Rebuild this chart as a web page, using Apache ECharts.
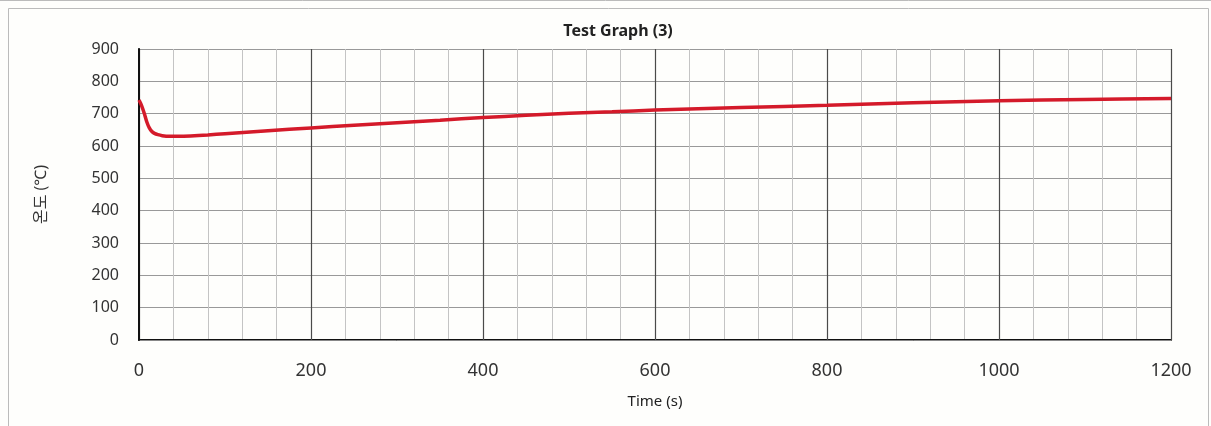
<!DOCTYPE html>
<html><head><meta charset="utf-8">
<script src="https://cdn.jsdelivr.net/npm/echarts@6/dist/echarts.min.js"></script>
<style>html,body{margin:0;padding:0;background:#fefefc;}#c{width:1211px;height:426px;}</style>
</head><body><div id="c"></div>
<script>
const timeS = [0,3,6,9,12,15,18,22,27,35,45,60,80,100,150,200,250,300,350,400,450,500,550,600,700,800,900,1000,1100,1200];
const tempC = [742,725,702,675,656,645,639,635,632,630,630,631,634,638,647,656,664,672,680,688,695,701,706,711,719,726,734,740,744,747];
const titleText = 'Test Graph (3)';
const xName = 'Time (s)';
const yName = '온도 (℃)';

const font = '"Noto Sans", "Noto Sans CJK KR", sans-serif';
const chart = echarts.init(document.getElementById('c'), null, {renderer:'canvas'});
chart.setOption({
  backgroundColor:'#fefefc',
  animation:false,
  title:{text:titleText,left:613,top:18,textAlign:'center',
    textStyle:{fontFamily:font,fontSize:16,fontWeight:'bold',color:'#222'}},
  grid:{left:139,right:40,top:49,bottom:86,containLabel:false},
  graphic:[
    {type:'rect',shape:{x:8.5,y:8.5,width:1200,height:430},style:{fill:null,stroke:'#bbb',lineWidth:1},z:-1},
    {type:'line',shape:{x1:0,y1:0.5,x2:1211,y2:0.5},style:{stroke:'#bbb',lineWidth:1},z:-1}
  ],
  xAxis:[
    {type:'value',min:0,max:1200,interval:200,position:'bottom',z:2,
     name:xName,nameLocation:'middle',nameGap:54,
     nameTextStyle:{fontFamily:font,fontSize:15,color:'#222'},
     axisLine:{show:true,lineStyle:{color:'#888',width:1}},axisTick:{show:false},
     axisLabel:{fontFamily:font,fontSize:18,color:'#333',margin:22,formatter:v=>String(v)},
     splitLine:{show:true,lineStyle:{color:'#4a4a4a',width:1.2}}},
    {type:'value',min:0,max:1200,interval:40,position:'top',z:1,
     axisLine:{show:true,lineStyle:{color:'#111',width:2}},axisTick:{show:false},
     axisLabel:{show:false},
     splitLine:{show:true,lineStyle:{color:'#c4c4c4',width:1}}}
  ],
  yAxis:[
    {type:'value',min:0,max:900,interval:100,position:'left',z:1,
     name:yName,nameLocation:'middle',nameGap:90,nameRotate:90,
     nameTextStyle:{fontFamily:font,fontSize:16,color:'#333'},
     axisLine:{show:true,lineStyle:{color:'#666',width:1.5}},axisTick:{show:false},
     axisLabel:{fontFamily:font,fontSize:16,color:'#333',margin:20},
     splitLine:{show:true,lineStyle:{color:'#999',width:1}}},
    {type:'value',min:0,max:900,interval:100,position:'right',z:3,
     axisLine:{show:true,lineStyle:{color:'#111',width:2}},axisTick:{show:false},
     axisLabel:{show:false},splitLine:{show:false}}
  ],
  series:[{type:'line',xAxisIndex:0,yAxisIndex:0,smooth:0.3,showSymbol:false,
    data:timeS.map((t,i)=>[t,tempC[i]]),
    lineStyle:{color:'#d41a2a',width:3.5},z:10}]
});
</script></body></html>
